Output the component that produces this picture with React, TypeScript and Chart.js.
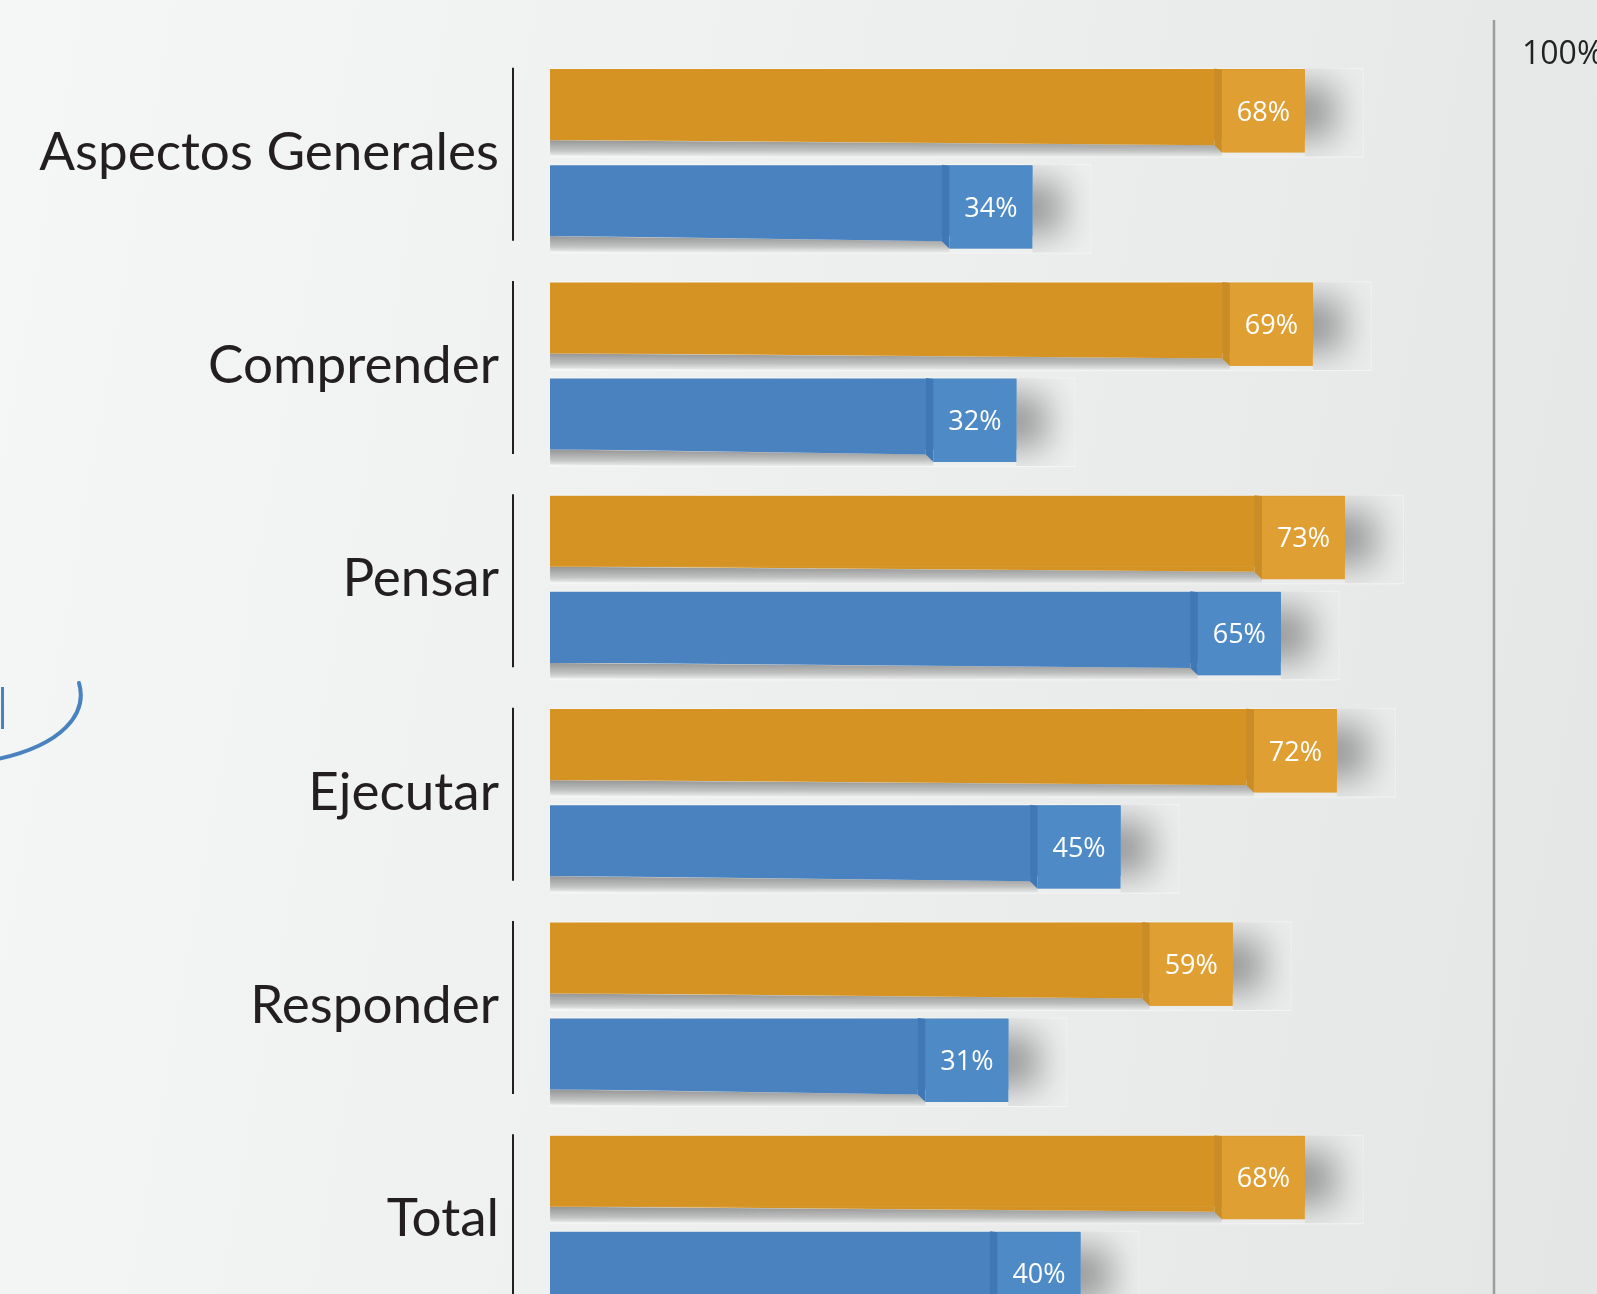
import React, { useEffect, useRef } from "react";
import { Chart, registerables } from "chart.js";

Chart.register(...registerables);

const categories = ["Aspectos Generales", "Comprender", "Pensar", "Ejecutar", "Responder", "Total"];
const orangeValues = [68, 69, 73, 72, 59, 68];
const blueValues = [34, 32, 65, 45, 31, 40];
const axisMaxLabel = "100%";

const X_MIN = -26.2;
const X_MAX = 91.6;

const ORANGE = "#d59324";
const ORANGE_TAB = "#e09f33";
const ORANGE_FOLD = "#c98d27";
const BLUE = "#4a82c0";
const BLUE_TAB = "#4d8ac6";
const BLUE_FOLD = "#3f78b5";

const TAB_W = 83;
const TAB_H = 83.5;
const FOLD_W = 7.5;
const SLANT = 5;

const decoPlugin = {
  id: "deco",
  beforeDatasetsDraw(chart: any) {
    const { ctx, chartArea } = chart;
    // blue decorative arc at the left
    ctx.save();
    ctx.strokeStyle = "#4a82c0";
    ctx.lineWidth = 4;
    ctx.lineCap = "round";
    ctx.beginPath();
    ctx.moveTo(79, 683);
    ctx.bezierCurveTo(88, 714, 62, 745, -2, 759);
    ctx.stroke();
    ctx.lineWidth = 3;
    ctx.lineCap = "butt";
    ctx.beginPath();
    ctx.moveTo(2.5, 687);
    ctx.lineTo(2.5, 729);
    ctx.stroke();
    ctx.restore();

    // 100% reference line
    ctx.save();
    ctx.strokeStyle = "#9c9c9c";
    ctx.lineWidth = 2.5;
    ctx.beginPath();
    ctx.moveTo(chartArea.right, 20);
    ctx.lineTo(chartArea.right, chart.height);
    ctx.stroke();
    ctx.fillStyle = "#222222";
    ctx.font = '32px "Open Sans"';
    ctx.textAlign = "left";
    ctx.textBaseline = "middle";
    ctx.fillText(axisMaxLabel, chartArea.right + 28, 55);
    ctx.restore();

    // group separators
    const yScale = chart.scales.y;
    ctx.save();
    ctx.strokeStyle = "#231f20";
    ctx.lineWidth = 2;
    categories.forEach((_, i) => {
      const cy = yScale.getPixelForValue(i);
      ctx.beginPath();
      ctx.moveTo(chartArea.left - 37, cy - 85);
      ctx.lineTo(chartArea.left - 37, cy + 88);
      ctx.stroke();
    });
    ctx.restore();

    // backdrop boxes and shadows
    chart.data.datasets.forEach((_: any, di: number) => {
      const meta = chart.getDatasetMeta(di);
      meta.data.forEach((el: any) => {
        const x = el.x, y = el.y, h = el.height, base = el.base;
        const top = y - h / 2;
        const bottom = y + h / 2;
        ctx.save();
        ctx.fillStyle = "rgba(255,255,255,0.12)";
        ctx.fillRect(base, top - 1, x + 58 - base, TAB_H + 6);
        ctx.strokeStyle = "rgba(255,255,255,0.4)";
        ctx.lineWidth = 1;
        ctx.strokeRect(base + 0.5, top - 0.5, x + 58 - base, TAB_H + 5);
        ctx.restore();

        // shadow under main bar
        const g = ctx.createLinearGradient(0, bottom, 0, bottom + 17);
        g.addColorStop(0, "rgba(0,0,0,0.38)");
        g.addColorStop(0.6, "rgba(0,0,0,0.2)");
        g.addColorStop(1, "rgba(0,0,0,0)");
        ctx.save();
        ctx.fillStyle = g;
        ctx.beginPath();
        ctx.moveTo(base, bottom);
        ctx.lineTo(x - TAB_W, bottom + SLANT);
        ctx.lineTo(x - TAB_W, bottom + SLANT + 15);
        ctx.lineTo(base, bottom + 15);
        ctx.closePath();
        ctx.fill();
        ctx.restore();

        // shadow right of the tab
        ctx.save();
        ctx.beginPath();
        ctx.rect(x, top - 1, 60, TAB_H + 5);
        ctx.clip();
        ctx.shadowColor = "rgba(0,0,0,0.36)";
        ctx.shadowBlur = 34;
        ctx.shadowOffsetX = 3000;
        ctx.fillStyle = "#000";
        ctx.fillRect(x - 3000 - 40, top + 16, 70, TAB_H - 30);
        ctx.restore();
      });
    });
  },
  afterDatasetsDraw(chart: any) {
    const { ctx } = chart;
    chart.data.datasets.forEach((ds: any, di: number) => {
      const meta = chart.getDatasetMeta(di);
      const main = di === 0 ? ORANGE : BLUE;
      const tab = di === 0 ? ORANGE_TAB : BLUE_TAB;
      const fold = di === 0 ? ORANGE_FOLD : BLUE_FOLD;
      meta.data.forEach((el: any, i: number) => {
        const x = el.x, y = el.y, h = el.height, base = el.base;
        const top = y - h / 2;
        const bottom = y + h / 2;
        const tabL = x - TAB_W;
        const foldL = tabL - FOLD_W;
        ctx.save();
        ctx.fillStyle = main;
        ctx.beginPath();
        ctx.moveTo(base, bottom - 0.5);
        ctx.lineTo(foldL, bottom - 0.5);
        ctx.lineTo(foldL, bottom + SLANT);
        ctx.closePath();
        ctx.fill();
        ctx.fillStyle = fold;
        ctx.beginPath();
        ctx.moveTo(foldL, top - 0.5);
        ctx.lineTo(tabL, top + 0.5);
        ctx.lineTo(tabL, top + TAB_H);
        ctx.lineTo(foldL, bottom + SLANT);
        ctx.closePath();
        ctx.fill();
        ctx.fillStyle = tab;
        ctx.fillRect(tabL, top + 0.5, TAB_W, TAB_H - 0.5);
        ctx.fillStyle = "#ffffff";
        ctx.font = '27px "Open Sans"';
        ctx.textAlign = "center";
        ctx.textBaseline = "middle";
        ctx.fillText(ds.data[i] + "%", tabL + TAB_W / 2, top + TAB_H / 2 + 2);
        ctx.restore();
      });
    });
  },
};

export default function App() {
  const ref = useRef<HTMLCanvasElement>(null);
  useEffect(() => {
    if (!ref.current) return;
    const chart = new Chart(ref.current, {
      type: "bar",
      data: {
        labels: categories,
        datasets: [
          { label: "orange", data: orangeValues, backgroundColor: ORANGE, base: X_MIN } as any,
          { label: "blue", data: blueValues, backgroundColor: BLUE, base: X_MIN } as any,
        ],
      },
      options: {
        indexAxis: "y",
        responsive: false,
        animation: false,
        layout: { padding: { top: 46, right: 103, bottom: 4, left: 0 } },
        datasets: { bar: { categoryPercentage: 0.9006, barPercentage: 0.7396 } } as any,
        plugins: { legend: { display: false }, tooltip: { enabled: false } },
        scales: {
          x: { type: "linear", min: X_MIN, max: X_MAX, display: false },
          y: {
            type: "category",
            offset: true,
            grid: { display: false, drawTicks: false },
            border: { display: false },
            ticks: {
              font: { family: "Lato", size: 53 },
              color: "#231f20",
              padding: 51,
            },
            afterFit: (s: any) => {
              s.width = 550;
              s.paddingTop = 0;
              s.paddingBottom = 0;
            },
          } as any,
        },
      },
      plugins: [decoPlugin],
    });
    return () => chart.destroy();
  }, []);
  return (
    <div
      style={{
        position: "fixed",
        left: 0,
        top: 0,
        width: 1597,
        height: 1294,
        overflow: "hidden",
        background: "linear-gradient(100deg, #f5f6f6 0%, #eff0f0 40%, #e4e5e5 100%)",
      }}
    >
      <canvas ref={ref} width={1597} height={1330} style={{ display: "block" }} />
    </div>
  );
}
